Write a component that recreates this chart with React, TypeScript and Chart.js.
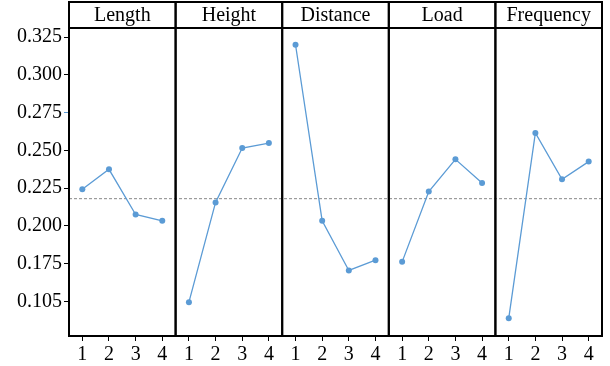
import React, { useEffect, useRef } from "react";
import { Chart, registerables } from "chart.js";

Chart.register(...registerables);

const CATEGORIES = ["Length", "Height", "Distance", "Load", "Frequency"];
const LEVELS = ["1", "2", "3", "4"];
const LENGTH = [0.2242, 0.2374, 0.2075, 0.2033];
const HEIGHT = [0.1494, 0.2155, 0.2515, 0.2548];
const DISTANCE = [0.3199, 0.2033, 0.1704, 0.1772];
const LOAD = [0.1761, 0.2227, 0.244, 0.2283];
const FREQUENCY = [0.1387, 0.2615, 0.2308, 0.2425];
const Y_TICKS = [0.15, 0.175, 0.2, 0.225, 0.25, 0.275, 0.3, 0.325];
const Y_TICK_LABELS = ["0.105", "0.175", "0.200", "0.225", "0.250", "0.275", "0.300", "0.325"];

const SERIES = [LENGTH, HEIGHT, DISTANCE, LOAD, FREQUENCY];
const BLUE = "#5b9bd5";
const FONT = '"Liberation Serif"';

export default function App() {
  const ref = useRef<HTMLCanvasElement | null>(null);

  useEffect(() => {
    if (!ref.current) return;
    const n = LEVELS.length;
    const all = SERIES.flat();
    const grandMean = all.reduce((a, b) => a + b, 0) / all.length;
    const totalMax = CATEGORIES.length * n + 0.5;

    const datasets: any[] = SERIES.map((vals, i) => ({
      label: CATEGORIES[i],
      data: vals.map((v, j) => ({ x: i * n + j + 1, y: v })),
      borderColor: BLUE,
      backgroundColor: BLUE,
      borderWidth: 1.3,
      pointRadius: 3,
      pointBorderWidth: 0,
      pointBackgroundColor: BLUE,
      tension: 0,
      order: 1,
    }));
    datasets.push({
      label: "mean",
      data: [
        { x: 0.5, y: grandMean },
        { x: totalMax, y: grandMean },
      ],
      borderColor: "#888888",
      borderWidth: 1,
      borderDash: [3, 2],
      pointRadius: 0,
      order: 2,
    });

    const panelPlugin = {
      id: "panels",
      afterDraw(c: any) {
        const { ctx, chartArea, scales } = c;
        const xs = scales.x;
        ctx.save();
        ctx.strokeStyle = "#000";
        ctx.lineWidth = 2;
        CATEGORIES.forEach((name, i) => {
          const l = xs.getPixelForValue(i * n + 0.5);
          const r = xs.getPixelForValue(i * n + n + 0.5);
          ctx.strokeRect(l, chartArea.top, r - l, chartArea.bottom - chartArea.top);
          ctx.strokeRect(l, 2, r - l, chartArea.top - 2);
          ctx.fillStyle = "#000";
          ctx.font = `20px ${FONT}`;
          ctx.textAlign = "center";
          ctx.textBaseline = "middle";
          ctx.fillText(name, (l + r) / 2, (2 + chartArea.top) / 2 + 1);
        });
        ctx.restore();
      },
    };

    const chart = new Chart(ref.current, {
      type: "line",
      data: { datasets },
      plugins: [panelPlugin],
      options: {
        animation: false,
        responsive: false,
        layout: { padding: { left: 0, top: 28, right: 8, bottom: 0 } },
        plugins: { legend: { display: false }, tooltip: { enabled: false } },
        scales: {
          x: {
            type: "linear",
            min: 0.5,
            max: totalMax,
            afterBuildTicks: (s: any) => {
              const t: any[] = [];
              for (let v = 1; v <= CATEGORIES.length * n; v++) t.push({ value: v });
              s.ticks = t;
            },
            afterFit: (s: any) => {
              s.height = 30;
            },
            border: { display: false },
            grid: {
              drawOnChartArea: false,
              drawTicks: true,
              tickLength: 5,
              color: "#000",
              lineWidth: 1,
            },
            ticks: {
              autoSkip: false,
              maxRotation: 0,
              padding: 2,
              color: "#000",
              font: { family: FONT, size: 20 },
              callback: (v: any) => LEVELS[(Math.round(v) - 1) % n],
            },
          },
          y: {
            type: "linear",
            min: 0.127,
            max: 0.331,
            afterBuildTicks: (s: any) => {
              s.ticks = Y_TICKS.map((v) => ({ value: v }));
            },
            afterFit: (s: any) => {
              s.width = 69;
            },
            border: { display: false },
            grid: {
              drawOnChartArea: false,
              drawTicks: true,
              tickLength: 5,
              color: (c: any) =>
                c.tick && Math.abs(c.tick.value - 0.275) < 1e-6 ? BLUE : "#000",
              lineWidth: 1,
            },
            ticks: {
              padding: 2,
              color: "#000",
              font: { family: FONT, size: 20 },
              callback: (v: any) => {
                const idx = Y_TICKS.findIndex((t) => Math.abs(t - v) < 1e-6);
                return idx >= 0 ? Y_TICK_LABELS[idx] : "";
              },
            },
          },
        },
      },
    });
    const timer = setTimeout(() => chart.update(), 150);
    return () => {
      clearTimeout(timer);
      chart.destroy();
    };
  }, []);

  return (
    <div style={{ position: "absolute", left: 0, top: 0, width: 610, height: 366 }}>
      <div
        aria-hidden="true"
        style={{ position: "absolute", left: 0, top: 0, fontFamily: FONT, fontSize: 20, color: "#fff", zIndex: 0 }}
      >
        0
      </div>
      <canvas ref={ref} width={610} height={366} style={{ display: "block", position: "relative", zIndex: 1 }} />
    </div>
  );
}
